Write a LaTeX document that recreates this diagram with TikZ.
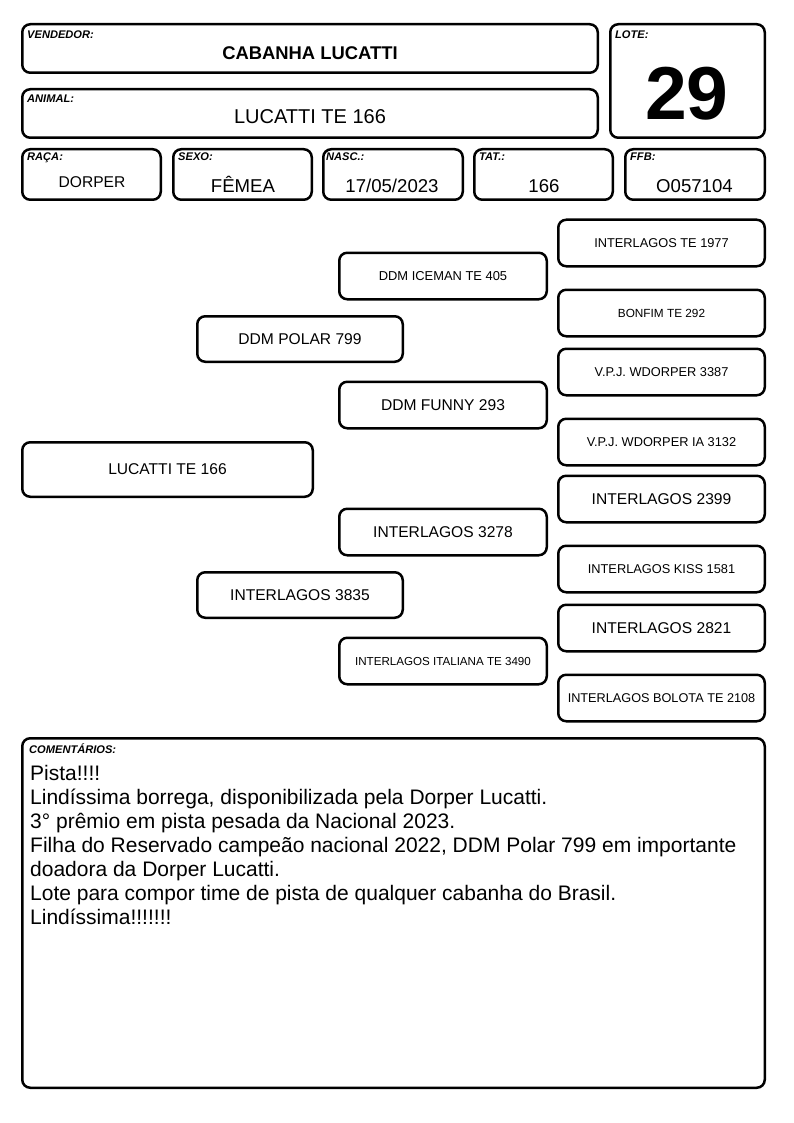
\documentclass[tikz,border=0pt]{standalone}
\usepackage{fontspec}
\setmainfont{Liberation Sans}
\newcommand\fsz[1]{\fontsize{#1}{#1}\selectfont}
\begin{document}
\begin{tikzpicture}[x=1pt,y=-1pt,
  box/.style 2 args={draw, line width=2.5pt, rounded corners=8pt, inner sep=0pt, minimum width=#1pt, minimum height=#2pt, align=center},
  lbl/.style={anchor=base west, inner sep=0pt, font=\fsz{11.1}\bfseries\itshape},
  val/.style={anchor=base, inner sep=0pt},
  big/.style={font=\fsz{15.6}},
  sml/.style={font=\fsz{#1}},
]
\fill[white] (0,0) rectangle (794,1123);
\useasboundingbox (0,0) rectangle (794,1123);

% header
\node[box={575.5}{48.5}] (vend) at (310,48.5) {};
\node[lbl] (lvend) at (27,39) {VENDEDOR:};
\node[val, font=\fsz{18.4}\bfseries] (tvend) at (310,59.5) {CABANHA LUCATTI};

\node[box={575.5}{48.5}] (anim) at (310,113.5) {};
\node[lbl] (lanim) at (27,103) {ANIMAL:};
\node[val, font=\fsz{20}] (tanim) at (310,124) {LUCATTI TE 166};

\node[box={154.5}{113.5}] (lote) at (687.5,81) {};
\node[lbl] (llote) at (615,38.7) {LOTE:};
\node[val, font=\fsz{75}\bfseries] (tlote) at (687,119.7) {29};

\node[box={138.5}{50.5}] (raca) at (91.5,174.5) {};
\node[lbl] (lraca) at (27,161) {RAÇA:};
\node[val, font=\fsz{15.6}] (traca) at (92,188) {DORPER};

\node[box={138.5}{50.5}] (sexo) at (242.5,174.5) {};
\node[lbl] (lsexo) at (178,161) {SEXO:};
\node[val, font=\fsz{18.6}] (tsexo) at (243,193) {FÊMEA};

\node[box={139.5}{50.5}] (nasc) at (393,174.5) {};
\node[lbl] (lnasc) at (326,161) {NASC.:};
\node[val, font=\fsz{18.6}] (tnasc) at (392,193) {17/05/2023};

\node[box={138.5}{50.5}] (tat) at (543.5,174.5) {};
\node[lbl] (ltat) at (479,161) {TAT.:};
\node[val, font=\fsz{18.6}] (ttat) at (544,193) {166};

\node[box={139.5}{50.5}] (ffb) at (695,174.5) {};
\node[lbl] (lffb) at (630,161) {FFB:};
\node[val, font=\fsz{18.6}] (tffb) at (694.5,193) {O057104};

% pedigree
\node[box={290.5}{54.5}, big] (p0) at (167.5,469.5) {LUCATTI TE 166};

\node[box={205.5}{45.5}, big] (p1) at (300,339) {DDM POLAR 799};
\node[box={205.5}{45.5}, big] (p2) at (300,595) {INTERLAGOS 3835};

\node[box={207.5}{46.5}, sml=12.9] (p3) at (443,276) {DDM ICEMAN TE 405};
\node[box={207.5}{46.5}, big] (p4) at (443,405) {DDM FUNNY 293};
\node[box={207.5}{46.5}, big] (p5) at (443,532) {INTERLAGOS 3278};
\node[box={207.5}{46.5}, sml=11.6] (p6) at (443,661) {INTERLAGOS ITALIANA TE 3490};

\node[box={206.5}{46.5}, sml=12.8] (p7) at (661.5,243) {INTERLAGOS TE 1977};
\node[box={206.5}{46.5}, sml=11.8] (p8) at (661.5,313) {BONFIM TE 292};
\node[box={206.5}{46.5}, sml=12.8] (p9) at (661.5,372) {V.P.J. WDORPER 3387};
\node[box={206.5}{46.5}, sml=12.8] (p10) at (661.5,442) {V.P.J. WDORPER IA 3132};
\node[box={206.5}{46.5}, big] (p11) at (661.5,499) {INTERLAGOS 2399};
\node[box={206.5}{46.5}, sml=12.8] (p12) at (661.5,569) {INTERLAGOS KISS 1581};
\node[box={206.5}{46.5}, big] (p13) at (661.5,628) {INTERLAGOS 2821};
\node[box={206.5}{46.5}, sml=12.7] (p14) at (661.5,698) {INTERLAGOS BOLOTA TE 2108};

% comments
\node[box={742.5}{349.5}] (com) at (393.5,913) {};
\node[lbl] (lcom) at (29,753) {COMENTÁRIOS:};
\node[anchor=north west, inner sep=0pt, align=left, font=\fontsize{21}{24}\selectfont] (tcom) at (30,765) {Pista!!!!\\
Lindíssima borrega, disponibilizada pela Dorper Lucatti.\\
3° prêmio em pista pesada da Nacional 2023.\\
Filha do Reservado campeão nacional 2022, DDM Polar 799 em importante\\
doadora da Dorper Lucatti.\\
Lote para compor time de pista de qualquer cabanha do Brasil.\\
Lindíssima!!!!!!!};
\end{tikzpicture}
\end{document}
